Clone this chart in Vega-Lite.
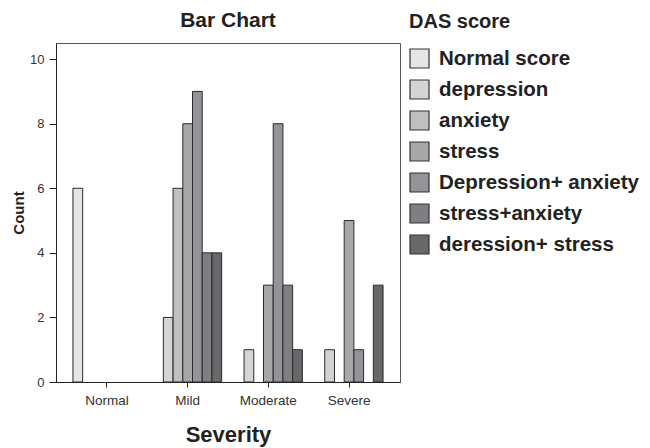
{
  "$schema": "https://vega.github.io/schema/vega-lite/v6.json",
  "width": 344,
  "height": 339,
  "autosize": "none",
  "padding": {"left": 56, "top": 43, "right": 250, "bottom": 66},
  "background": "white",
  "title": {"text": "Bar Chart", "font": "Liberation Sans", "fontSize": 21, "fontWeight": "bold", "color": "#222", "anchor": "middle", "offset": 14, "dy": 33},
  "config": {
    "view": {"stroke": "#555", "strokeWidth": 1},
    "font": "Liberation Sans"
  },
  "data": {"values": [
    {"severity": "Normal", "score": "Normal score", "count": 6},
    {"severity": "Mild", "score": "depression", "count": 2},
    {"severity": "Mild", "score": "anxiety", "count": 6},
    {"severity": "Mild", "score": "stress", "count": 8},
    {"severity": "Mild", "score": "Depression+ anxiety", "count": 9},
    {"severity": "Mild", "score": "stress+anxiety", "count": 4},
    {"severity": "Mild", "score": "deression+ stress", "count": 4},
    {"severity": "Moderate", "score": "depression", "count": 1},
    {"severity": "Moderate", "score": "stress", "count": 3},
    {"severity": "Moderate", "score": "Depression+ anxiety", "count": 8},
    {"severity": "Moderate", "score": "stress+anxiety", "count": 3},
    {"severity": "Moderate", "score": "deression+ stress", "count": 1},
    {"severity": "Severe", "score": "depression", "count": 1},
    {"severity": "Severe", "score": "stress", "count": 5},
    {"severity": "Severe", "score": "Depression+ anxiety", "count": 1},
    {"severity": "Severe", "score": "deression+ stress", "count": 3}
  ]},
  "mark": {"type": "bar", "stroke": "#2a2a2a", "strokeWidth": 1, "opacity": 1},
  "encoding": {
    "x": {
      "field": "severity", "type": "nominal",
      "sort": ["Normal", "Mild", "Moderate", "Severe"],
      "scale": {"paddingInner": 0.157, "paddingOuter": 0.21},
      "axis": {
        "title": "Severity", "titleFont": "Liberation Sans", "titleFontSize": 22, "titleFontWeight": "bold", "titleColor": "#222", "titlePadding": 18,
        "labelAngle": 0, "labelFont": "Liberation Sans", "labelFontSize": 13.5, "labelColor": "#333", "labelPadding": 6,
        "domainColor": "#222", "tickColor": "#222", "tickSize": 5, "grid": false
      }
    },
    "xOffset": {
      "field": "score", "type": "nominal",
      "scale": {"domain": ["Normal score", "depression", "anxiety", "stress", "Depression+ anxiety", "stress+anxiety", "deression+ stress"], "paddingInner": 0, "paddingOuter": 0}
    },
    "y": {
      "field": "count", "type": "quantitative",
      "scale": {"domain": [0, 10.5], "nice": false},
      "axis": {
        "title": "Count", "titleFont": "Liberation Sans", "titleFontSize": 15, "titleFontWeight": "bold", "titleColor": "#222", "titlePadding": 3,
        "values": [0, 2, 4, 6, 8, 10], "labelFont": "Liberation Sans", "labelFontSize": 13, "labelColor": "#333", "labelPadding": 5,
        "domainColor": "#222", "tickColor": "#222", "tickSize": 7, "grid": false
      }
    },
    "fill": {
      "field": "score", "type": "nominal",
      "scale": {
        "domain": ["Normal score", "depression", "anxiety", "stress", "Depression+ anxiety", "stress+anxiety", "deression+ stress"],
        "range": ["#e4e5e7", "#d3d4d6", "#bebfc1", "#a7a8aa", "#939497", "#7e7f82", "#67686a"]
      },
      "legend": {
        "title": "\u00a0DAS score", "orient": "none", "legendX": 353, "legendY": -31,
        "titleFont": "Liberation Sans", "titleFontSize": 20, "titleFontWeight": "bold", "titleColor": "#222", "titlePadding": 16,
        "labelFont": "Liberation Sans", "labelFontSize": 20.5, "labelFontWeight": "bold", "labelColor": "#222", "labelLimit": 300,
        "symbolType": "square", "symbolSize": 361, "symbolStrokeColor": "#333", "symbolStrokeWidth": 1.2, "symbolOpacity": 1,
        "rowPadding": 6, "labelOffset": 9
      }
    }
  }
}
